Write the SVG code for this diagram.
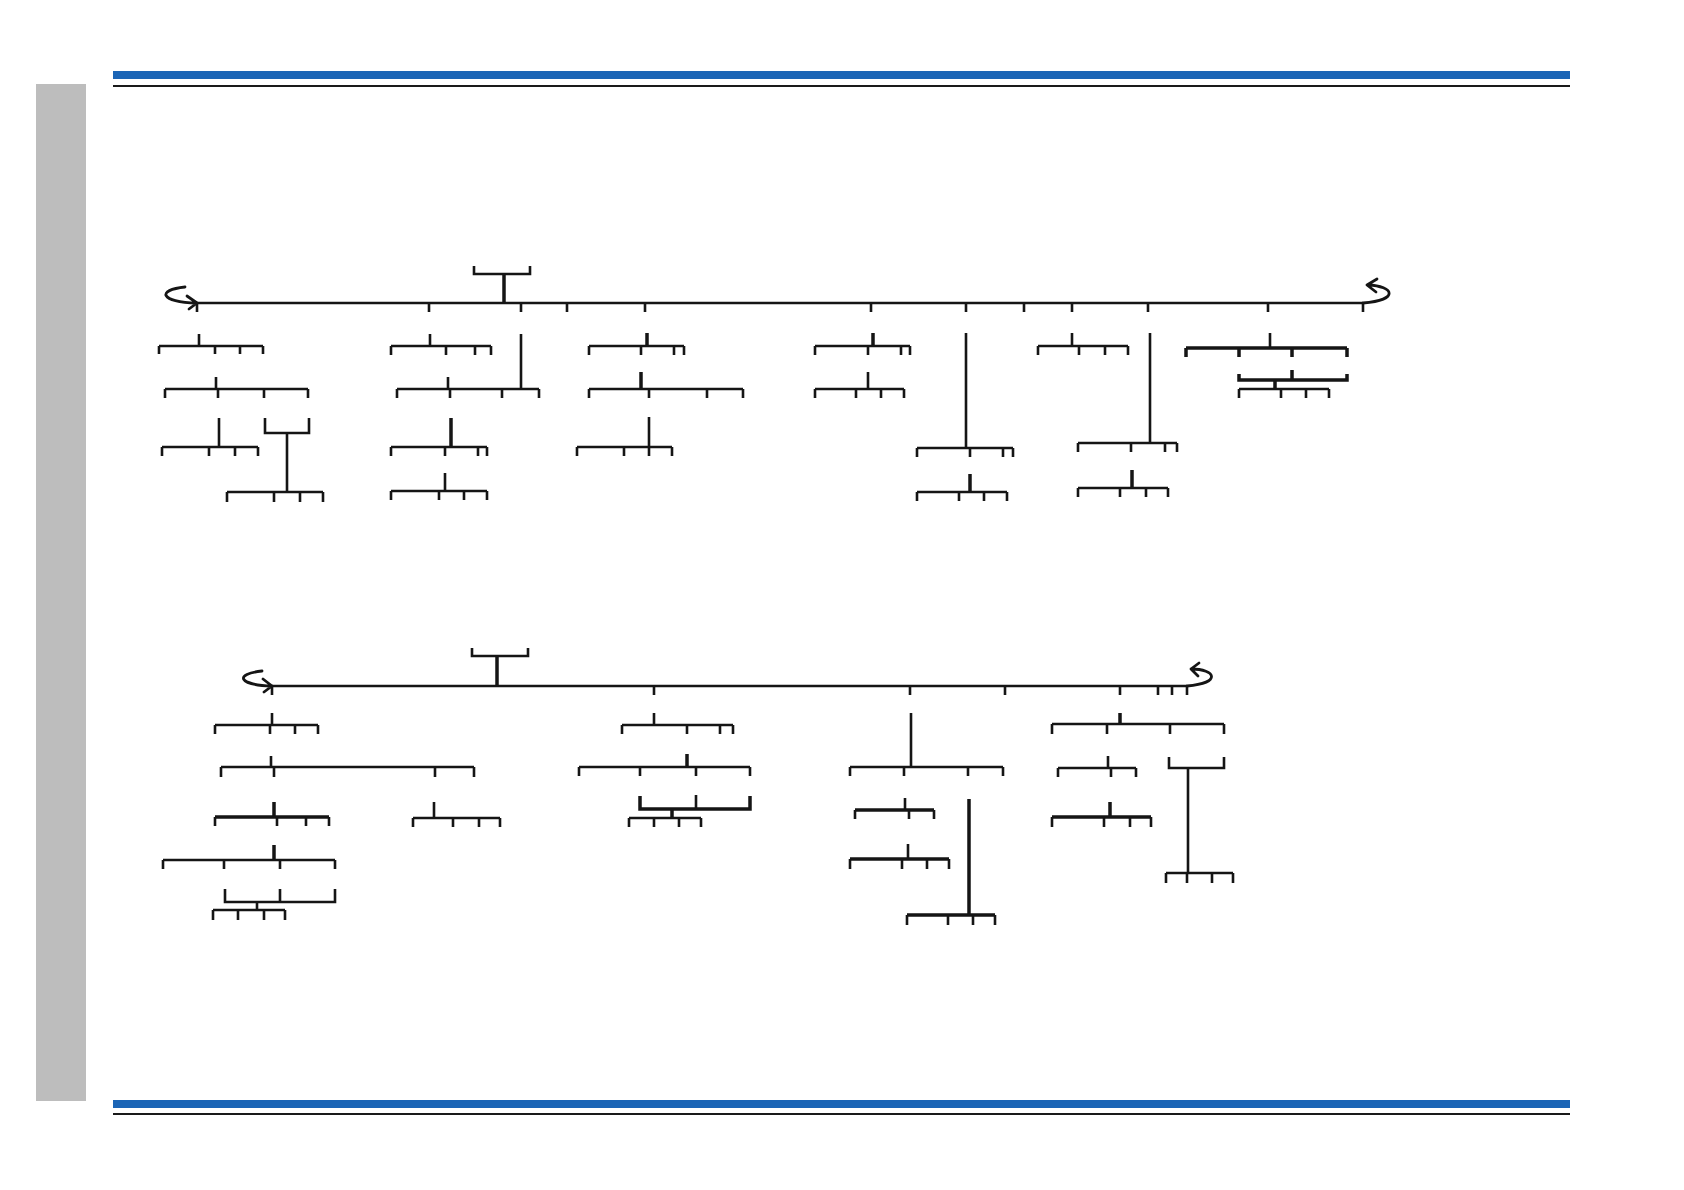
<svg xmlns="http://www.w3.org/2000/svg" width="1684" height="1190" viewBox="0 0 1684 1190">
<style>
path{fill:none;stroke:#151515;stroke-width:2.6;stroke-linecap:butt;stroke-linejoin:miter}
.t{stroke-width:3.5}
.m{stroke-width:2.4}
.ar{stroke-width:2.8;stroke-linecap:round;stroke-linejoin:round}
</style>
<rect x="0" y="0" width="1684" height="1190" fill="#ffffff"/>
<g id="frame">
<rect x="36" y="84" width="50" height="1017" fill="#bdbdbd"/>
<rect x="113" y="71" width="1457" height="8" fill="#1b65b6"/>
<rect x="113" y="85" width="1457" height="2" fill="#1a1a1a"/>
<rect x="113" y="1100" width="1457" height="8" fill="#1b65b6"/>
<rect x="113" y="1113" width="1457" height="2" fill="#1a1a1a"/>
</g>
<g id="connectors">
<path class="m" d="M197 303H1363"/>
<path d="M197 303V312M429 303V312M521 303V312M567 303V312M645 303V312M871 303V312M966 303V312M1024 303V312M1072 303V312M1148 303V312M1268 303V312M1363 303V312"/>
<path class="ar" d="M185 287C156 290 160 302 197 303M187 296L197 303L189 309"/>
<path class="ar" d="M1363 303C1400 300 1394 286 1368 285M1377 279L1367 285L1376 292"/>
<path class="m" d="M272 686H1187"/>
<path d="M272 686V695M654 686V695M910 686V695M1005 686V695M1120 686V695M1158 686V695M1172 686V695M1187 686V695"/>
<path class="ar" d="M262 671C234 674 238 685 272 686M263 679L272 686L264 692"/>
<path class="ar" d="M1187 686C1222 683 1216 669 1191 669M1199 663L1191 669L1198 676"/>
</g>
<g id="top1"><path d="M474 266V274H530V266"/><path class="t" d="M504 274V303"/></g>
<g id="A1"><path d="M199 334V346M159 346H263M159 346V354M215 346V354M240 346V354M263 346V354"/></g>
<g id="A2"><path d="M216 377V389M165 389H308M165 389V398M218 389V398M264 389V398M308 389V398"/></g>
<g id="A3"><path d="M219 418V447M162 447H258M162 447V456M209 447V456M235 447V456M258 447V456"/></g>
<g id="A4"><path d="M265 418V433H309V418M287 433V492M227 492H323M227 492V502M274 492V502M300 492V502M323 492V502"/></g>
<g id="B1"><path d="M430 334V346M391 346H491M391 346V355M446 346V355M475 346V355M491 346V355"/></g>
<g id="B2"><path d="M521 334V389M448 377V389M397 389H539M397 389V398M450 389V398M502 389V398M539 389V398"/></g>
<g id="B3"><path class="t" d="M451 418V447"/><path d="M391 447H487M391 447V456M445 447V456M478 447V456M487 447V456"/></g>
<g id="B4"><path d="M445 473V491M391 491H487M391 491V500M439 491V500M464 491V500M487 491V500"/></g>
<g id="C1"><path class="t" d="M647 333V346"/><path d="M589 346H684M589 346V355M641 346V355M674 346V355M684 346V355"/></g>
<g id="C2"><path class="t" d="M641 372V389"/><path d="M589 389H743M589 389V398M649 389V398M707 389V398M743 389V398"/></g>
<g id="C3"><path d="M649 417V447M577 447H672M577 447V456M624 447V456M649 447V456M672 447V456"/></g>
<g id="D1"><path class="t" d="M873 333V346"/><path d="M815 346H910M815 346V355M868 346V355M901 346V355M910 346V355"/></g>
<g id="D2"><path d="M868 372V389M815 389H904M815 389V398M856 389V398M881 389V398M904 389V398"/></g>
<g id="E1"><path d="M966 333V448M917 448H1013M917 448V457M970 448V457M1003 448V457M1013 448V457"/></g>
<g id="E2"><path class="t" d="M970 474V492"/><path d="M917 492H1007M917 492V501M959 492V501M984 492V501M1007 492V501"/></g>
<g id="F1"><path d="M1072 333V346M1038 346H1128M1038 346V355M1079 346V355M1105 346V355M1128 346V355"/></g>
<g id="G1"><path d="M1150 333V443M1078 443H1177M1078 443V452M1131 443V452M1165 443V452M1177 443V452"/></g>
<g id="G2"><path class="t" d="M1132 470V488"/><path d="M1078 488H1168M1078 488V497M1120 488V497M1146 488V497M1168 488V497"/></g>
<g id="H1"><path d="M1270 333V348"/><path class="t" d="M1186 348H1347M1186 348V357M1239 348V357M1292 348V357M1347 348V357"/></g>
<g id="H2"><path class="t" d="M1239 374V380H1347V374M1292 370V380M1275 380V389"/><path d="M1239 389H1329M1239 389V398M1281 389V398M1306 389V398M1329 389V398"/></g>
<g id="top2"><path d="M472 648V656H528V648"/><path class="t" d="M497 656V686"/></g>
<g id="I1"><path d="M272 713V725M215 725H318M215 725V734M270 725V734M295 725V734M318 725V734"/></g>
<g id="I2"><path d="M271 756V767M221 767H474M221 767V777M274 767V777M435 767V777M474 767V777"/></g>
<g id="I3"><path class="t" d="M274 802V817M215 817H329"/><path d="M215 817V826M277 817V826M306 817V826M329 817V826"/></g>
<g id="I4"><path d="M434 802V818M413 818H500M413 818V827M453 818V827M479 818V827M500 818V827"/></g>
<g id="I5"><path class="t" d="M274 845V860"/><path d="M163 860H335M163 860V869M224 860V869M280 860V869M335 860V869"/></g>
<g id="I6"><path d="M225 889V902H335V889M280 889V902M257 902V910M213 910H285M213 910V920M238 910V920M264 910V920M285 910V920"/></g>
<g id="J1"><path d="M654 713V725M622 725H733M622 725V734M687 725V734M720 725V734M733 725V734"/></g>
<g id="J2"><path class="t" d="M687 754V767"/><path d="M579 767H750M579 767V776M640 767V776M696 767V776M750 767V776"/></g>
<g id="J3"><path class="t" d="M640 796V809H750V796M672 809V818"/><path d="M696 795V809M629 818H701M629 818V827M654 818V827M679 818V827M701 818V827"/></g>
<g id="K1"><path d="M911 713V767M850 767H1003M850 767V776M904 767V776M968 767V776M1003 767V776"/></g>
<g id="K2"><path d="M905 798V810"/><path class="t" d="M855 810H934"/><path d="M855 810V819M909 810V819M934 810V819"/></g>
<g id="K3"><path d="M908 844V859"/><path class="t" d="M850 859H949"/><path d="M850 859V869M902 859V869M927 859V869M949 859V869"/></g>
<g id="K4"><path class="t" d="M969 799V915M907 915H995"/><path d="M907 915V925M948 915V925M973 915V925M995 915V925"/></g>
<g id="L1"><path class="t" d="M1120 713V724"/><path d="M1052 724H1224M1052 724V734M1107 724V734M1170 724V734M1224 724V734"/></g>
<g id="L2"><path d="M1108 756V768M1058 768H1136M1058 768V777M1111 768V777M1136 768V777"/></g>
<g id="L3"><path class="t" d="M1110 802V817M1052 817H1151"/><path d="M1052 817V827M1104 817V827M1130 817V827M1151 817V827"/></g>
<g id="M1"><path d="M1169 757V768H1224V757M1188 768V873M1166 873H1233M1166 873V883M1187 873V883M1212 873V883M1233 873V883"/></g>
</svg>
